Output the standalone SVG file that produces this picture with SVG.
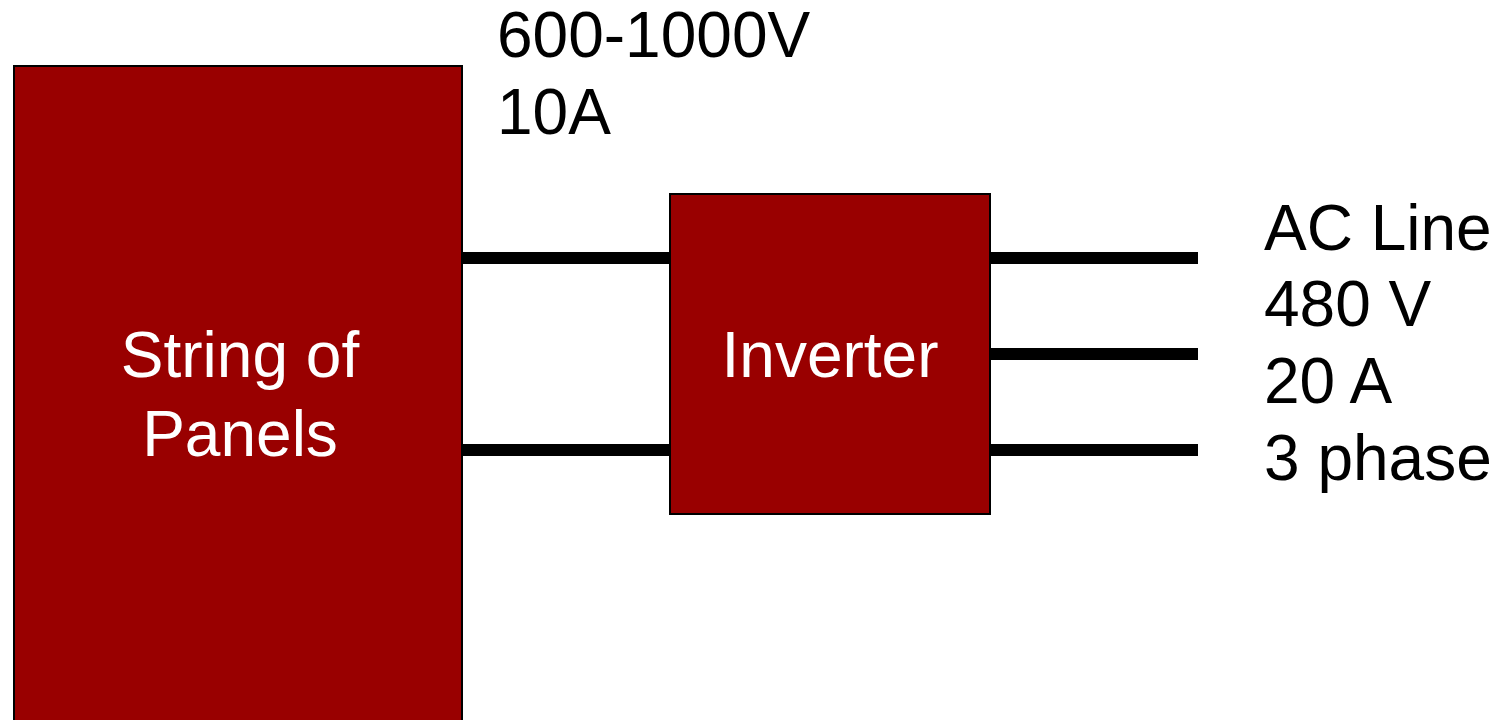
<svg xmlns="http://www.w3.org/2000/svg" width="1503" height="720" viewBox="0 0 1503 720">
<style>
.box{fill:#990000;stroke:#000;stroke-width:2}
.wire{stroke:#000;stroke-width:12;fill:none}
.t{font-family:"Liberation Sans",Arial,sans-serif;font-size:64px}
.w{fill:#fff;text-anchor:middle}
.k{fill:#000}
</style>
<rect width="1503" height="720" fill="#fff"/>
<g id="connectors">
<line class="wire" x1="462" y1="258" x2="670" y2="258"/>
<line class="wire" x1="462" y1="450" x2="670" y2="450"/>
<line class="wire" x1="990" y1="258" x2="1198" y2="258"/>
<line class="wire" x1="990" y1="354" x2="1198" y2="354"/>
<line class="wire" x1="990" y1="450" x2="1198" y2="450"/>
</g>
<g id="panels">
<rect class="box" x="14" y="66" width="448" height="680"/>
<text class="t w" x="240" y="377">String of</text>
<text class="t w" x="240" y="456">Panels</text>
</g>
<g id="inverter">
<rect class="box" x="670" y="194" width="320" height="320"/>
<text class="t w" x="830" y="377">Inverter</text>
</g>
<g id="dc-label">
<text class="t k" x="497" y="57">600-1000V</text>
<text class="t k" x="497" y="134">10A</text>
</g>
<g id="ac-label">
<text class="t k" x="1264" y="250">AC Line</text>
<text class="t k" x="1264" y="326">480 V</text>
<text class="t k" x="1264" y="403">20 A</text>
<text class="t k" x="1264" y="480">3 phase</text>
</g>
</svg>
